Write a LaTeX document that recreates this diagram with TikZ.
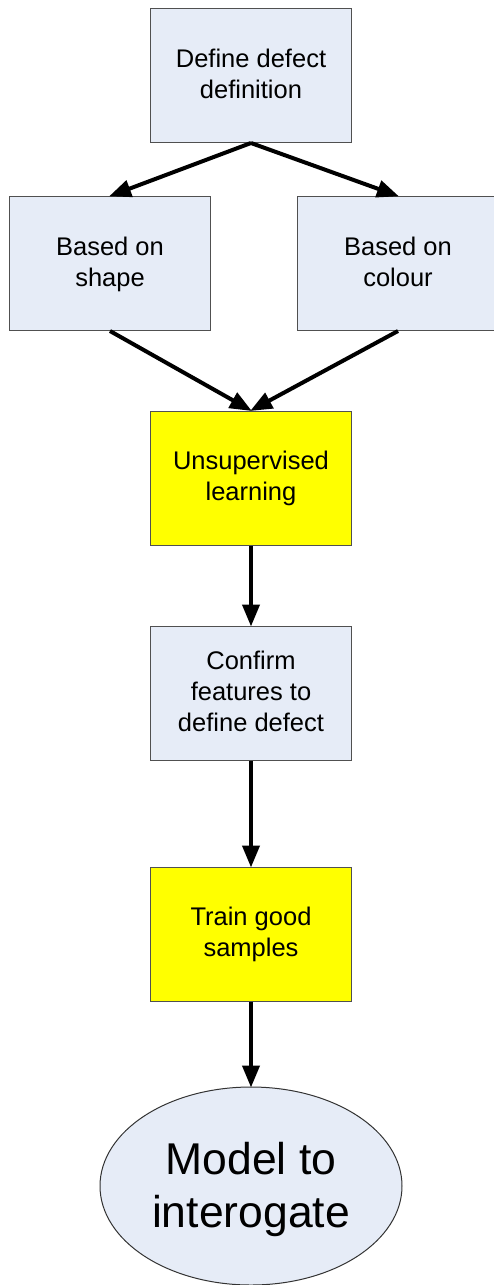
\documentclass[tikz,border=0pt]{standalone}
\usepackage{fontspec}
\setmainfont{Liberation Sans}
\usetikzlibrary{arrows.meta,shapes.geometric}
\definecolor{boxfill}{HTML}{E6ECF7}
\definecolor{boxline}{HTML}{505050}
\definecolor{yel}{HTML}{FFFF00}
\tikzset{
  procbox/.style={draw=boxline, line width=1pt, fill=boxfill, minimum width=201pt, minimum height=134pt, inner sep=0pt, align=center, text depth=4pt, font=\fontsize{25.5}{31}\selectfont},
  yelbox/.style={procbox, fill=yel},
  endnode/.style={ellipse, draw=black!80, line width=1pt, fill=boxfill, minimum width=302pt, minimum height=198pt, inner sep=0pt, align=center, text depth=2pt, font=\fontsize{44.5}{53}\selectfont},
  flow/.style={draw=black, line width=4pt, -{Triangle[length=22pt,width=17pt]}, shorten >=-1pt}
}
\begin{document}
\begin{tikzpicture}[x=1pt,y=-1pt]
\useasboundingbox (0,0) rectangle (494,1285);
\clip (0,0) rectangle (494,1285);
\node[procbox] (def) at (251,75.5) {Define defect\\definition};
\node[procbox] (shape) at (110,263.5) {Based on\\shape};
\node[procbox] (colour) at (398,263.5) {Based on\\colour};
\node[yelbox] (unsup) at (251,478) {Unsupervised\\learning};
\node[procbox] (conf) at (251,693) {Confirm\\features to\\define defect};
\node[yelbox] (train) at (251,934) {Train good\\samples};
\node[endnode] (model) at (251,1186) {Model to\\interogate};
\draw[flow] (def.south) -- (shape.north);
\draw[flow] (def.south) -- (colour.north);
\draw[flow] (shape.south) -- (unsup.north);
\draw[flow] (colour.south) -- (unsup.north);
\draw[flow] (unsup.south) -- (conf.north);
\draw[flow] (conf.south) -- (train.north);
\draw[flow] (train.south) -- (model.north);
\end{tikzpicture}
\end{document}
